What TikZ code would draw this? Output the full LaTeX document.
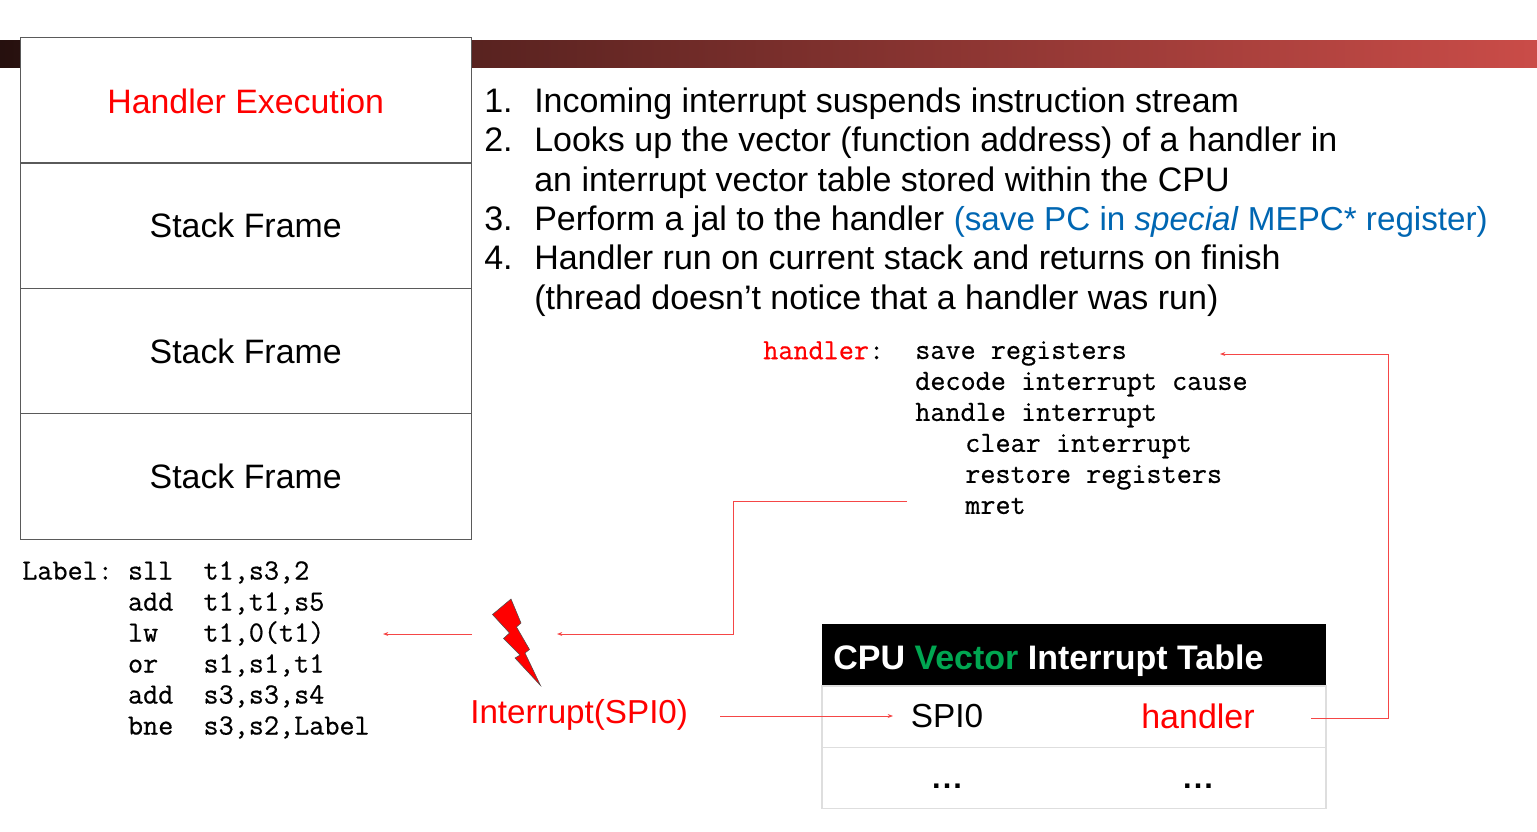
\documentclass[tikz,border=0pt]{standalone}
\usepackage{fontspec}
\setmainfont{Liberation Sans}
\newfontfamily\cdfont{Latin Modern Mono}[FakeBold=0.6]
\usetikzlibrary{arrows.meta,positioning,calc}
\definecolor{barleft}{RGB}{38,16,14}
\definecolor{barright}{RGB}{202,76,72}
\definecolor{wirered}{RGB}{245,70,70}
\definecolor{linkblue}{RGB}{0,102,178}
\definecolor{vecgreen}{RGB}{0,166,81}
\definecolor{framegray}{RGB}{90,90,90}
\definecolor{rowgray}{RGB}{222,222,222}

\begin{document}
\begin{tikzpicture}[x=0.75pt,y=-0.75pt,>={Stealth[length=4pt,width=3pt]}]
\tikzset{fr/.style={draw=framegray,fill=white,line width=0.8pt,minimum width=338.25pt,minimum height=94pt,outer sep=0pt,inner sep=0pt,font=\fontsize{25.4}{30}\selectfont},
  cd/.style={anchor=north west,align=left,inner sep=0pt,font=\fontsize{22}{23.25}\cdfont},
  wire/.style={draw=wirered,line width=0.7pt},
  row/.style={draw=rowgray,fill=white,line width=0.8pt,minimum width=378pt,minimum height=46pt,outer sep=0pt}}
\useasboundingbox (0,0) rectangle (1537,831);
\shade[left color=barleft,right color=barright] (0,41) rectangle (1537,68);
% stack
\node[fr,anchor=north west,text=red,text height=19.9pt,text depth=0pt] (he) at (20.2,37.7) {Handler Execution};
\node[fr,below=0pt of he] (sf1) {Stack Frame};
\node[fr,below=0pt of sf1] (sf2) {Stack Frame};
\node[fr,below=0pt of sf2] (sf3) {Stack Frame};
% steps
\node[anchor=north west,align=left,inner sep=0pt,font=\fontsize{25.5}{29.5}\selectfont] (nums) at (484,89) {1.\\2.\\~\\3.\\4.};
\node[anchor=north west,align=left,inner sep=0pt,font=\fontsize{25.5}{29.5}\selectfont] (steps) at (534,87.5) {Incoming interrupt suspends instruction stream\\
Looks up the vector (function address) of a handler in\\
an interrupt vector table stored within the CPU\\
Perform a jal to the handler {\fontsize{24.9}{29.5}\selectfont\color{linkblue}(save PC in \textit{special} MEPC* register)}\\
Handler run on current stack and returns on finish\\
(thread doesn’t notice that a handler was run)};
% code
\node[cd] (lbl) at (763,341) {{\color{red}handler}:};
\node[cd] (hcode) at (915,341) {save registers\\decode interrupt cause\\handle interrupt\\\hspace*{37.5pt}clear interrupt\\\hspace*{37.5pt}restore registers\\\hspace*{37.5pt}mret};
\node[cd] (lcode) at (22,561) {Label:~sll~~t1,s3,2\\~~~~~~~add~~t1,t1,s5\\~~~~~~~lw~~~t1,0(t1)\\~~~~~~~or~~~s1,s1,t1\\~~~~~~~add~~s3,s3,s4\\~~~~~~~bne~~s3,s2,Label};
% bolt
\draw[fill=red,draw=black!70,line width=0.4pt] (511,599) -- (521,623) -- (516.5,627) -- (529.5,649.5) -- (525,653) -- (540.5,685.5) -- (515,658) -- (520,655) -- (503.5,638.5) -- (509.5,633) -- (492.5,614.5) -- cycle;
\node[anchor=west,inner sep=0pt,text=red,font=\fontsize{24.9}{30}\selectfont] (intr) at (470,715) {Interrupt(SPI0)};
% table
\node[fill=black,text=white,anchor=north west,minimum width=378pt,minimum height=46.5pt,outer sep=0pt,inner sep=0pt] (thead) at (822,624) {};
\node[anchor=west,inner sep=0pt,text=white,font=\fontsize{25.5}{30}\bfseries] (ttl) at (833,661) {CPU {\color{vecgreen}Vector} Interrupt Table};
\node[row,below=0pt of thead] (r1) {};
\node[row,below=0pt of r1] (r2) {};
\node[font=\fontsize{25}{30}\selectfont] (spi) at (947,716) {SPI0};
\node[font=\fontsize{25.5}{30}\selectfont,text=red] (hnd) at (1198,716) {handler};
\node[font=\fontsize{23}{30}\bfseries] (d1) at (947,786) {.\kern1.5pt.\kern1.5pt.};
\node[font=\fontsize{23}{30}\bfseries] (d2) at (1198,786) {.\kern1.5pt.\kern1.5pt.};
% ends of the wires
\coordinate (hback) at (1220,354);
\coordinate (hout) at (1311,718);
\coordinate (ret) at (907,501);
\coordinate (bolta) at (557,634);
\coordinate (boltb) at (472,634);
\coordinate (lin) at (383,634);
\coordinate (ia) at (720,716);
\coordinate (ib) at (893,716);
\draw[wire,->] (hout) -- (1388,718) -- (1388,354) -- (hback);
\draw[wire,->] (ret) -- (733,501) -- (733,634) -- (bolta);
\draw[wire,->] (boltb) -- (lin);
\draw[wire,->] (ia) -- (ib);
\end{tikzpicture}
\end{document}
